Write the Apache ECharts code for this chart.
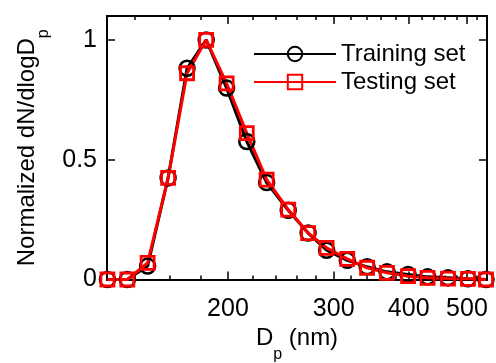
<!DOCTYPE html>
<html>
<head>
<meta charset="utf-8">
<script src="https://cdn.jsdelivr.net/npm/echarts@6/dist/echarts.min.js"></script>
<style>html,body{margin:0;padding:0;background:#fff}#c{width:496px;height:363px}</style>
</head>
<body>
<div id="c"></div>
<script>
// Particle diameters (nm), log-spaced
const diameters = [126,136,147,159,171,184,199,215,232,252,272,292,316,341,368,399,430,465,502,538];
const training = [0,0,0.056,0.424,0.882,1.0,0.799,0.576,0.405,0.289,0.194,0.122,0.080,0.053,0.032,0.021,0.011,0.007,0.003,0];
const testing  = [0,0,0.069,0.424,0.861,1.0,0.819,0.611,0.417,0.292,0.194,0.132,0.086,0.049,0.028,0.014,0.007,0.004,0.003,0];
const majorTicks = [200,300,400,500];
const minorTicks = [140,160,180,220,240,260,280,320,340,360,380,420,440,460,480,520];
const yTicks = [0,0.5,1];
const xRange = [125.8,540];
const yRange = [0,1.1];

const FONT = 'Liberation Sans, Arial, sans-serif';
const lg = v => Math.log10(v);
const toPairs = arr => diameters.map((d,i)=>[lg(d), arr[i]]);
const lineAx = {show:true, onZero:false, lineStyle:{color:'#000', width:2}};
// equal-height tokens: main text at top, subscript lowered by padding
const nameRich = {
  a:{fontSize:24, fontFamily:FONT, color:'#000', lineHeight:24, padding:[0,0,12,0]},
  s:{fontSize:16, fontFamily:FONT, color:'#000', lineHeight:16, padding:[20,0,0,0]}
};

function xAx(pos, ticks, len, labels){
  return {
    type:'value', position:pos, min:lg(xRange[0]), max:lg(xRange[1]),
    axisLine: lineAx, splitLine:{show:false},
    axisTick:{show:true, inside:true, length:len, customValues: ticks.map(lg), lineStyle:{color:'#000', width:1.5}},
    axisLabel: labels ? {show:true, customValues: ticks.map(lg), margin:17, color:'#000', fontSize:25, fontFamily:FONT,
      formatter: v => String(Math.round(Math.pow(10,v)))} : {show:false},
    name: (labels && pos==='bottom') ? '{a|D}{s|p}{a| (nm)}' : '',
    nameLocation:'middle', nameGap:50,
    nameTextStyle:{rich:nameRich}
  };
}

const chart = echarts.init(document.getElementById('c'), null, {renderer:'canvas'});
chart.setOption({
  animation:false,
  backgroundColor:'#fff',
  grid:{left:107, right:9, top:16, bottom:83.5, containLabel:false, outerBoundsMode:'none'},
  legend:{
    orient:'vertical', left:253, top:42, padding:0, itemWidth:82, itemHeight:18, itemGap:4,
    textStyle:{fontSize:24, fontFamily:FONT, color:'#000'},
    data:['Training set','Testing set']
  },
  xAxis:[
    xAx('bottom', majorTicks, 8, true),
    xAx('bottom', minorTicks, 4, false),
    xAx('top', majorTicks, 8, false),
    xAx('top', minorTicks, 4, false)
  ],
  yAxis:[
    {type:'value', position:'left', min:yRange[0], max:yRange[1],
     axisLine:lineAx, splitLine:{show:false},
     axisTick:{show:true, inside:true, length:8, customValues:yTicks, lineStyle:{color:'#000', width:1.5}},
     axisLabel:{show:true, customValues:yTicks, margin:10, color:'#000', fontSize:25, fontFamily:FONT},
     name:'{a|Normalized dN/dlogD}{s|p}', nameLocation:'middle', nameGap:52,
     nameTextStyle:{rich:nameRich}
    },
    {type:'value', position:'right', min:yRange[0], max:yRange[1],
     axisLine:lineAx, splitLine:{show:false},
     axisTick:{show:true, inside:true, length:8, customValues:yTicks, lineStyle:{color:'#000', width:1.5}},
     axisLabel:{show:false}
    }
  ],
  series:[
    {name:'Training set', type:'line', data:toPairs(training),
     symbol:'circle', symbolSize:15, showAllSymbol:true,
     lineStyle:{color:'#000', width:3},
     itemStyle:{color:'rgba(255,255,255,0)', borderColor:'#000', borderWidth:2.5}},
    {name:'Testing set', type:'line', data:toPairs(testing),
     symbol:'rect', symbolSize:13, showAllSymbol:true,
     lineStyle:{color:'#ff0000', width:3},
     itemStyle:{color:'rgba(255,255,255,0)', borderColor:'#ff0000', borderWidth:2.8}}
  ]
});
</script>
</body>
</html>
